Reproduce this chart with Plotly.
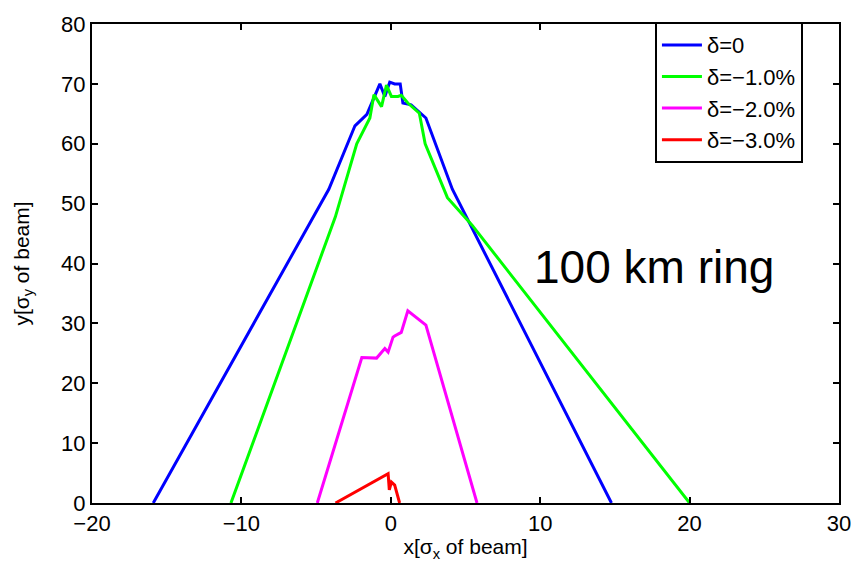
import plotly.graph_objects as go

# Dynamic aperture boundaries for several momentum deviations
labels = ["δ=0", "δ=−1.0%", "δ=−2.0%", "δ=−3.0%"]
colors = ["#0000ff", "#00ff00", "#ff00ff", "#ff0000"]

x_d0 = [-15.9, -4.15, -2.4, -1.6, -0.73, -0.4, -0.07, 0.26, 0.63, 0.81, 1.36, 2.35, 4.12, 14.77]
y_d0 = [0.0, 52.4, 63.0, 64.9, 70.0, 67.9, 70.3, 70.0, 70.0, 66.8, 66.5, 64.3, 52.4, 0.0]

x_d1 = [-10.7, -3.71, -2.28, -1.4, -1.13, -0.62, -0.29, 0.04, 0.48, 0.7, 1.14, 1.91, 2.3, 3.79, 5.44, 20.0]
y_d1 = [0.0, 47.8, 60.0, 64.3, 68.2, 66.2, 69.8, 67.9, 67.9, 68.1, 66.8, 65.1, 60.0, 51.0, 46.4, 0.0]

x_d2 = [-4.92, -1.94, -0.95, -0.62, -0.4, -0.18, 0.04, 0.15, 0.26, 0.7, 1.14, 2.35, 5.77]
y_d2 = [0.0, 24.3, 24.2, 25.2, 25.8, 25.2, 26.9, 27.7, 27.9, 28.5, 32.1, 29.7, 0.0]

x_d3 = [-3.7, -0.18, -0.1, 0.04, 0.26, 0.59]
y_d3 = [0.0, 4.9, 2.2, 3.5, 3.0, 0.0]

series = [(x_d0, y_d0), (x_d1, y_d1), (x_d2, y_d2), (x_d3, y_d3)]

x_ticks = [-20, -10, 0, 10, 20, 30]
y_ticks = [0, 10, 20, 30, 40, 50, 60, 70, 80]

FONT = "Liberation Sans, Arial, sans-serif"

fig = go.Figure()
for (xs, ys), name, col in zip(series, labels, colors):
    fig.add_trace(go.Scatter(x=xs, y=ys, mode="lines", name=name,
                             line=dict(color=col, width=3)))

axis_common = dict(
    showline=True, linecolor="black", linewidth=2, mirror="ticks",
    ticks="inside", ticklen=6, tickwidth=2, tickcolor="black",
    showgrid=False, zeroline=False,
    tickfont=dict(family=FONT, size=22, color="black"),
)

fig.update_xaxes(range=[-20, 30], tickvals=x_ticks,
                 ticktext=[str(v).replace("-", "−") for v in x_ticks],
                 title=dict(text="x[σ<sub>x</sub> of beam]",
                            font=dict(family=FONT, size=21, color="black"),
                            standoff=4),
                 **axis_common)
fig.update_yaxes(range=[0, 80], tickvals=y_ticks,
                 title=dict(text="y[σ<sub>y</sub> of beam]",
                            font=dict(family=FONT, size=21, color="black"),
                            standoff=26),
                 **axis_common)

fig.add_annotation(x=17.6, y=39.4, xref="x", yref="y", text="100 km ring",
                   showarrow=False, xanchor="center", yanchor="middle",
                   font=dict(family=FONT, size=46, color="black"))

fig.update_layout(
    width=863, height=567,
    margin=dict(l=92, r=15, t=17, b=59),
    paper_bgcolor="white", plot_bgcolor="white",
    showlegend=True,
    legend=dict(x=0.7536, y=1.004, xanchor="left", yanchor="top",
                bgcolor="white", bordercolor="black", borderwidth=2,
                font=dict(family=FONT, size=22, color="black"),
                tracegroupgap=0, itemwidth=40),
)

fig.write_html("out.html")
